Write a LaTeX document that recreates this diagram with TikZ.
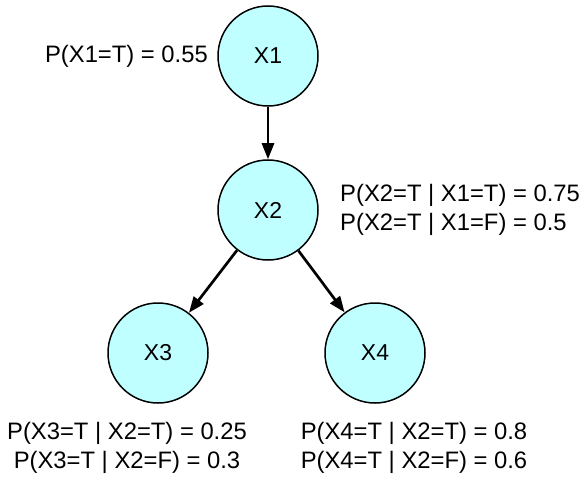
\documentclass[tikz,border=0pt]{standalone}
\usepackage{fontspec}
\setmainfont{Liberation Sans}
\usetikzlibrary{arrows.meta}
\definecolor{nodefill}{RGB}{192,255,255}
\begin{document}
\begin{tikzpicture}[x=1pt,y=-1pt,
  var/.style={circle,draw=black,line width=1.5pt,fill=nodefill,minimum size=100pt,inner sep=0pt,font=\fontsize{23}{28}\selectfont},
  lab/.style={font=\fontsize{23.8}{29}\selectfont,inner sep=0pt,align=center},
  edge/.style={line width=2.7pt,-{Triangle[length=16pt,width=12pt]}}]
\useasboundingbox (0,0) rectangle (588,481);
\node[var] (x1) at (268,56) {X1};
\node[var] (x2) at (268,210) {X2};
\node[var] (x3) at (158,353) {X3};
\node[var] (x4) at (375,353) {X4};
\node[lab,anchor=east] (l1) at (208,56) {P(X1=T) = 0.55};
\node[lab,anchor=west,align=left] (l2) at (340,210) {P(X2=T | X1=T) = 0.75\\P(X2=T | X1=F) = 0.5};
\node[lab] (l3) at (127,448) {P(X3=T | X2=T) = 0.25\\P(X3=T | X2=F) = 0.3};
\node[lab] (l4) at (414,448) {P(X4=T | X2=T) = 0.8\\P(X4=T | X2=F) = 0.6};
\draw[edge] (x1) -- (x2);
\draw[edge] (x2) -- (x3);
\draw[edge] (x2) -- (x4);
\end{tikzpicture}
\end{document}
